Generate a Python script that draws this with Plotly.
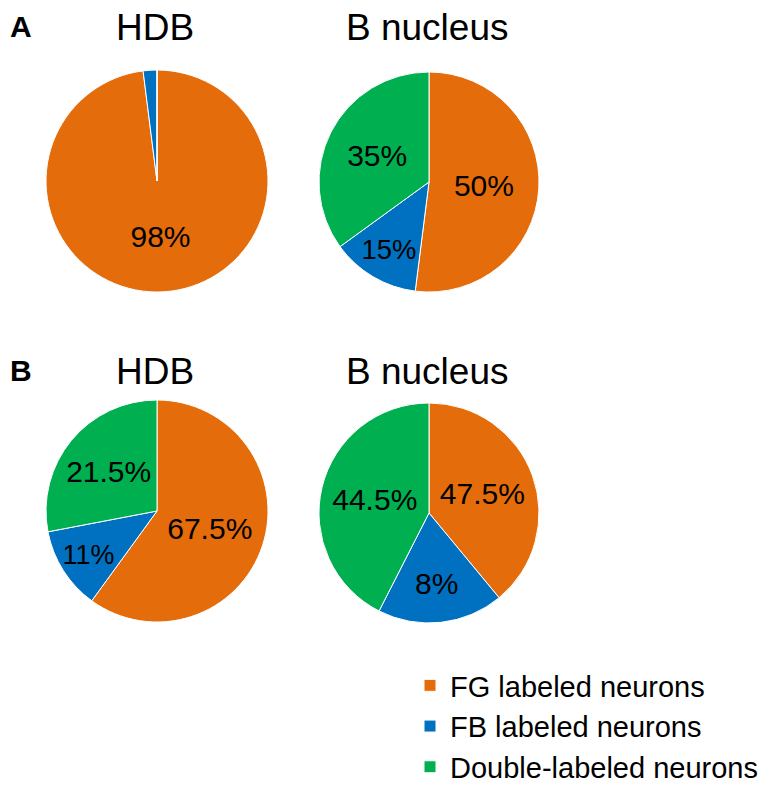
import plotly.graph_objects as go

categories = ["FG labeled neurons", "FB labeled neurons", "Double-labeled neurons"]
colors = ["#E46C0A", "#0070C0", "#00B050"]

# slice sizes as drawn (percent), and the printed percentage labels
hdb_a_values = [98, 2, 0]
hdb_a_text = ["98%", "", ""]
bnuc_a_values = [52, 13, 35]
bnuc_a_text = ["50%", "15%", "35%"]
hdb_b_values = [60, 12, 28]
hdb_b_text = ["67.5%", "11%", "21.5%"]
bnuc_b_values = [39, 18.5, 42.5]
bnuc_b_text = ["47.5%", "8%", "44.5%"]

panel_titles = ["HDB", "B nucleus"]
panel_letters = ["A", "B"]

W, H = 770, 788
OFF = 8  # page body margin
FONT = "Arial, Liberation Sans, sans-serif"


def px(x):
    return (x - OFF) / W


def py(y):
    return 1 - (y - OFF) / H


def dom(x0, x1, y0, y1):
    return dict(x=[px(x0), px(x1)], y=[py(y1), py(y0)])


pies = [
    (hdb_a_values, hdb_a_text, dom(46, 268, 70, 292)),
    (bnuc_a_values, bnuc_a_text, dom(319, 539, 71, 293)),
    (hdb_b_values, hdb_b_text, dom(46, 268, 400, 622)),
    (bnuc_b_values, bnuc_b_text, dom(319, 539, 402, 624)),
]

fig = go.Figure()
for i, (vals, txt, d) in enumerate(pies):
    fig.add_trace(go.Pie(
        labels=categories, values=vals, text=txt,
        textinfo="text", textposition="inside",
        insidetextorientation="horizontal",
        textfont=dict(family=FONT, size=30, color="black"),
        marker=dict(colors=colors, line=dict(color="white", width=1)),
        sort=False, direction="clockwise", rotation=0,
        domain=d, showlegend=(i == 0), hoverinfo="label+value",
    ))

annotations = []
for cx, t in zip([155, 427], panel_titles):
    for cy in [28, 372]:
        annotations.append(dict(x=px(cx), y=py(cy), xref="paper", yref="paper",
                                text=t, showarrow=False, xanchor="center", yanchor="middle",
                                font=dict(family=FONT, size=37, color="black")))
annotations.append(dict(x=0, y=1, xref="paper", yref="paper",
                        text="<b>%s</b>" % panel_letters[0], showarrow=False,
                        xanchor="left", yanchor="top",
                        font=dict(family=FONT, size=30, color="black")))
annotations.append(dict(x=0, y=py(370), xref="paper", yref="paper",
                        text="<b>%s</b>" % panel_letters[1], showarrow=False,
                        xanchor="left", yanchor="middle",
                        font=dict(family=FONT, size=30, color="black")))

fig.update_layout(
    width=W, height=H,
    margin=dict(l=0, r=0, t=0, b=0),
    paper_bgcolor="white", plot_bgcolor="white",
    annotations=annotations,
    legend=dict(x=px(410), y=py(660), xanchor="left", yanchor="top",
                font=dict(family=FONT, size=29, color="black"),
                bgcolor="rgba(0,0,0,0)", itemclick=False),
)

fig.write_html("out.html")
